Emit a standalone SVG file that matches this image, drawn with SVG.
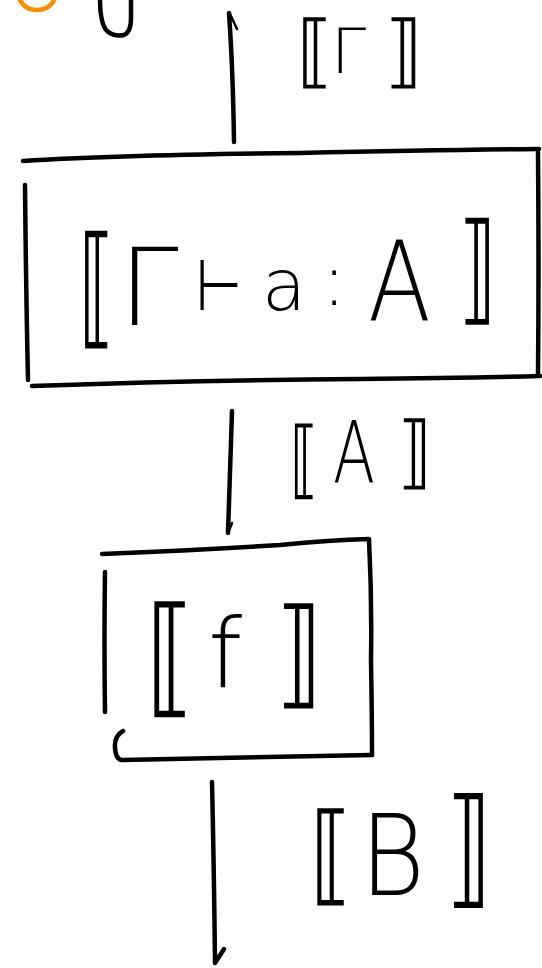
<svg xmlns="http://www.w3.org/2000/svg" width="542" height="968" viewBox="0 0 542 968">
<style>
.ink{fill:none;stroke:#000;stroke-width:4.5;stroke-linecap:round;stroke-linejoin:round}
.thin{fill:none;stroke:#000;stroke-width:2.5;stroke-linecap:round}
.orange{fill:none;stroke:#FF8C00;stroke-width:4.5;stroke-linecap:round}
.lbl{font-family:"DejaVu Sans","Noto Sans",sans-serif;font-weight:200;fill:#000}
</style>
<rect width="542" height="968" fill="#fff"/>
<g id="top-fragments">
<path class="orange" d="M19,-2 Q24,10 37,10 Q50,10 55,-2"/>
<path class="ink" d="M100,-2 Q100,24 107,31 Q114,37 124,35 Q131,32 131,18 L131,-2"/>
</g>
<g id="connectors">
<path class="ink" d="M229,13 Q233,70 234,142"/>
<path class="thin" d="M230,14 L237,29"/>
<path class="ink" d="M232,411 Q230,470 228,533"/>
<path class="thin" d="M228,533 L232,523"/>
<path class="ink" d="M212,782 Q214,870 215,963 L224,949"/>
</g>
<g id="label-gamma">
<text class="lbl"><tspan x="297" y="78" font-size="80" textLength="36" lengthAdjust="spacingAndGlyphs">⟦</tspan><tspan x="331" y="73" font-size="63">Γ</tspan><tspan x="385" y="78" font-size="80" textLength="38" lengthAdjust="spacingAndGlyphs">⟧</tspan></text>
</g>
<g id="node-judgement">
<path class="ink" d="M23,161 Q120,155 300,153 Q430,150 539,149"/>
<path class="ink" d="M25,185 Q26,290 28,380"/>
<path class="ink" d="M538,152 Q539,270 538,375"/>
<path class="ink" d="M32,386 Q200,380 360,379 Q460,378 540,376"/>
<text class="lbl"><tspan x="79" y="331" font-size="132" textLength="35" lengthAdjust="spacingAndGlyphs">⟦</tspan><tspan x="119" y="325" font-size="107">Γ</tspan><tspan x="196" y="310" font-size="72" textLength="46" lengthAdjust="spacingAndGlyphs">⊢</tspan><tspan x="262" y="310" font-size="72">a</tspan><tspan x="322" y="305" font-size="72">:</tspan><tspan x="368" y="320" font-size="110" textLength="63" lengthAdjust="spacingAndGlyphs">A</tspan><tspan x="459" y="309" font-size="120" textLength="37" lengthAdjust="spacingAndGlyphs">⟧</tspan></text>
</g>
<g id="label-A">
<text class="lbl"><tspan x="290" y="488" font-size="85" textLength="28" lengthAdjust="spacingAndGlyphs">⟦</tspan><tspan x="333" y="483" font-size="85" textLength="42" lengthAdjust="spacingAndGlyphs">A</tspan><tspan x="398" y="479" font-size="80" textLength="34" lengthAdjust="spacingAndGlyphs">⟧</tspan></text>
</g>
<g id="node-f">
<path class="ink" d="M102,554 Q200,550 280,545 Q330,540 369,539 Q372,600 371,660 Q372,720 372,755"/>
<path class="ink" d="M105,572 Q104,640 105,712"/>
<path class="ink" d="M123,731 Q114,736 115,748 Q116,760 122,760 Q250,757 372,755"/>
<text class="lbl"><tspan x="146" y="700" font-size="130" textLength="48" lengthAdjust="spacingAndGlyphs">⟦</tspan><tspan x="208" y="687" font-size="97">f</tspan><tspan x="276" y="693" font-size="118" textLength="46" lengthAdjust="spacingAndGlyphs">⟧</tspan></text>
</g>
<g id="label-B">
<text class="lbl"><tspan x="310" y="891" font-size="109" textLength="42" lengthAdjust="spacingAndGlyphs">⟦</tspan><tspan x="360" y="895" font-size="113" textLength="65" lengthAdjust="spacingAndGlyphs">B</tspan><tspan x="446" y="891" font-size="129" textLength="46" lengthAdjust="spacingAndGlyphs">⟧</tspan></text>
</g>
</svg>
